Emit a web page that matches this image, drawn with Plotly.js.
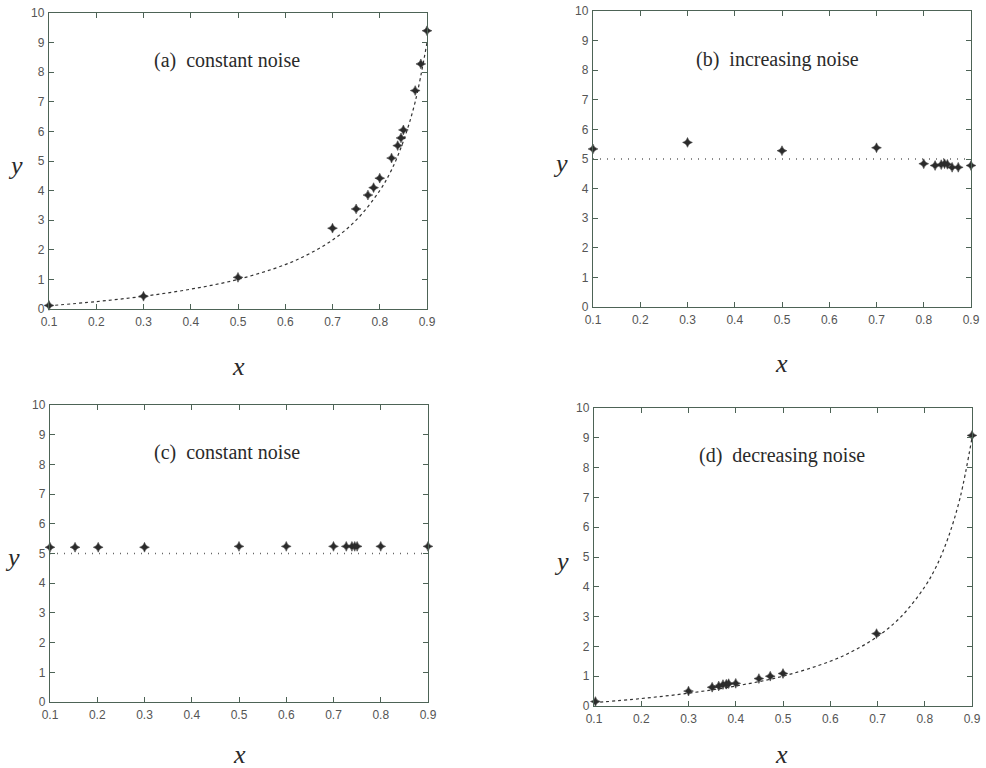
<!DOCTYPE html>
<html>
<head>
<meta charset="utf-8">
<script src="https://cdn.plot.ly/plotly-3.0.1.min.js"></script>
<style>html,body{margin:0;padding:0;background:#fff;}#chart{width:986px;height:768px;}</style>
</head>
<body>
<div id="chart"></div>
<script>
// ---- Data ----
// fitted curve (panels a and d)
const curveX = [0.1, 0.2, 0.3, 0.4, 0.5, 0.6, 0.65, 0.7, 0.75, 0.8, 0.825, 0.85, 0.875, 0.9];
const curveY = [0.11, 0.25, 0.43, 0.67, 1.0, 1.5, 1.86, 2.33, 3.0, 4.0, 4.7, 5.67, 7.0, 9.0];
// horizontal reference line (panels b and c)
const flatX = [0.1, 0.9];
const flatY = [5, 5];

// (a) constant noise
const aX = [0.1, 0.3, 0.5, 0.7, 0.75, 0.775, 0.787, 0.8, 0.825, 0.838, 0.845, 0.85, 0.875, 0.887, 0.9];
const aY = [0.12, 0.43, 1.07, 2.73, 3.38, 3.85, 4.1, 4.42, 5.1, 5.52, 5.78, 6.05, 7.38, 8.28, 9.4];
// (b) increasing noise
const bX = [0.1, 0.3, 0.5, 0.7, 0.8, 0.824, 0.837, 0.844, 0.85, 0.86, 0.873, 0.9];
const bY = [5.34, 5.56, 5.28, 5.38, 4.84, 4.78, 4.81, 4.84, 4.82, 4.72, 4.72, 4.78];
// (c) constant noise
const cX = [0.1, 0.153, 0.202, 0.3, 0.5, 0.6, 0.7, 0.727, 0.739, 0.745, 0.75, 0.8, 0.9];
const cY = [5.21, 5.21, 5.21, 5.21, 5.24, 5.24, 5.24, 5.24, 5.24, 5.24, 5.24, 5.24, 5.24];
// (d) decreasing noise
const dX = [0.103, 0.3, 0.35, 0.364, 0.373, 0.38, 0.385, 0.4, 0.449, 0.473, 0.5, 0.698, 0.9];
const dY = [0.15, 0.5, 0.63, 0.67, 0.72, 0.73, 0.75, 0.76, 0.92, 1.0, 1.09, 2.43, 9.08];

const panelTitles = ["(a)\u00a0 constant noise", "(b)\u00a0 increasing noise", "(c)\u00a0 constant noise", "(d)\u00a0 decreasing noise"];
const xTicks = [0.1, 0.2, 0.3, 0.4, 0.5, 0.6, 0.7, 0.8, 0.9];
const xTickText = ["0.1", "0.2", "0.3", "0.4", "0.5", "0.6", "0.7", "0.8", "0.9"];
const yTicks = [0, 1, 2, 3, 4, 5, 6, 7, 8, 9, 10];

// ---- Layout geometry (pixels) ----
const W = 986, H = 768;
const boxes = [
  {l: 49, r: 427, t: 13, b: 309, yt: [15, 165], xt: [238, 366], lab: [0.477, 8.4]},
  {l: 593, r: 971, t: 11, b: 307, yt: [560, 163], xt: [781, 364], lab: [0.49, 8.35]},
  {l: 50, r: 428, t: 405, b: 702, yt: [12, 557], xt: [239, 754], lab: [0.475, 8.4]},
  {l: 594, r: 972, t: 408, b: 706, yt: [561, 561], xt: [781, 754], lab: [0.498, 8.4]}
];

const axisColor = "#4d6356";
const markerStyle = {symbol: "star-diamond", size: 7, color: "#2b2b2b", line: {width: 0.5, color: "#2b2b2b"}};
const dashedLine = {color: "#333", width: 1.2, dash: "3px,3px", shape: "spline"};
const dottedLine = {color: "#666", width: 1.3, dash: "1px,6px"};

const seriesX = [aX, bX, cX, dX];
const seriesY = [aY, bY, cY, dY];
const refKind = ["curve", "flat", "flat", "curve"];

const traces = [];
const layout = {
  width: W, height: H,
  margin: {l: 0, r: 0, t: 0, b: 0},
  paper_bgcolor: "#fff", plot_bgcolor: "#fff",
  showlegend: false,
  annotations: []
};

boxes.forEach((bx, i) => {
  const n = i + 1;
  const xa = "x" + (n === 1 ? "" : n), ya = "y" + (n === 1 ? "" : n);
  const xk = "xaxis" + (n === 1 ? "" : n), yk = "yaxis" + (n === 1 ? "" : n);
  const rx = refKind[i] === "curve" ? curveX : flatX;
  const ry = refKind[i] === "curve" ? curveY : flatY;
  traces.push({x: rx, y: ry, xaxis: xa, yaxis: ya, type: "scatter", mode: "lines",
    line: refKind[i] === "curve" ? dashedLine : dottedLine, hoverinfo: "skip", cliponaxis: false});
  traces.push({x: seriesX[i], y: seriesY[i], xaxis: xa, yaxis: ya, type: "scatter", mode: "markers",
    marker: markerStyle, cliponaxis: false});
  const common = {
    showgrid: false, zeroline: false, showline: true, mirror: "ticks",
    linecolor: axisColor, linewidth: 1.2,
    ticks: "inside", ticklen: 5, tickcolor: axisColor, tickwidth: 1,
    tickfont: {family: "Liberation Sans, Arial, sans-serif", size: 12, color: "#555"}
  };
  layout[xk] = Object.assign({}, common, {
    domain: [bx.l / W, bx.r / W], anchor: ya, range: [0.1, 0.9],
    tickvals: xTicks, ticktext: xTickText, ticklabelstandoff: 1
  });
  layout[yk] = Object.assign({}, common, {
    domain: [1 - bx.b / H, 1 - bx.t / H], anchor: xa, range: [0, 10],
    tickvals: yTicks, ticktext: yTicks.map(String), ticklabelstandoff: 1
  });
  layout.annotations.push({
    xref: xa, yref: ya, x: bx.lab[0], y: bx.lab[1], text: panelTitles[i], showarrow: false,
    font: {family: "Liberation Serif, Times New Roman, serif", size: 20, color: "#2a2a2a"},
    xanchor: "center", yanchor: "middle"
  });
  layout.annotations.push({
    xref: "paper", yref: "paper", x: bx.yt[0] / W, y: 1 - bx.yt[1] / H, text: "<i>y</i>", showarrow: false,
    font: {family: "Liberation Serif, Times New Roman, serif", size: 26, color: "#2a2a2a"},
    xanchor: "center", yanchor: "middle"
  });
  layout.annotations.push({
    xref: "paper", yref: "paper", x: bx.xt[0] / W, y: 1 - bx.xt[1] / H, text: "<i>x</i>", showarrow: false,
    font: {family: "Liberation Serif, Times New Roman, serif", size: 26, color: "#2a2a2a"},
    xanchor: "center", yanchor: "middle"
  });
});

Plotly.newPlot("chart", traces, layout, {staticPlot: true, displayModeBar: false});
</script>
</body>
</html>
